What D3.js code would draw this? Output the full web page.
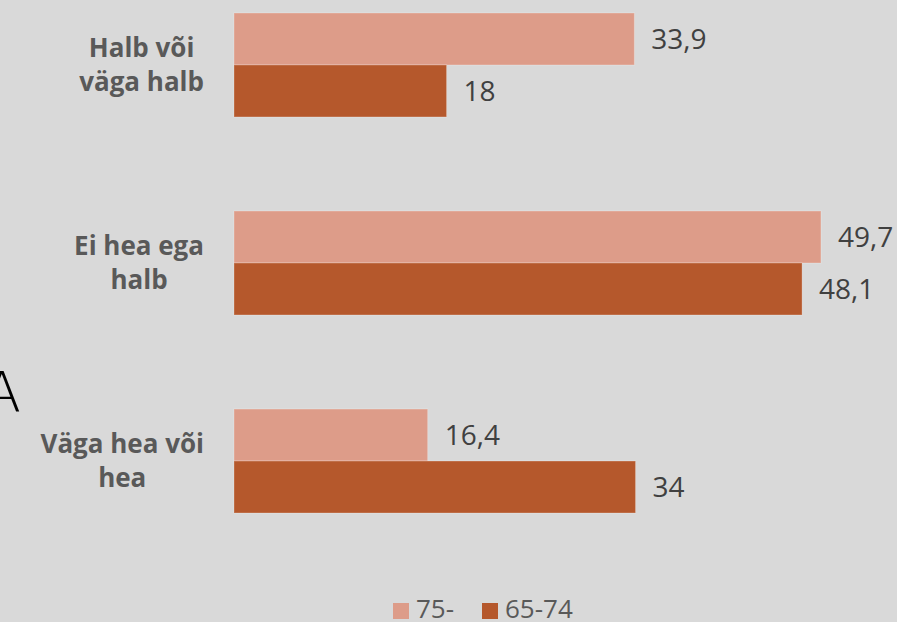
<!DOCTYPE html>
<head>
  <style>
    body { margin: 0; background: #d9d9d9; }
    svg { display: block; }
  </style>
<title>Tervis</title>
</head>

<body>
  <script src="https://cdn.jsdelivr.net/npm/d3@7"></script>

  <script>
    // data
    var categories = [["Halb või", "väga halb"], ["Ei hea ega", "halb"], ["Väga hea või", "hea"]];
    var series = ["75-", "65-74"];
    var values75 = [33.9, 49.7, 16.4];
    var values6574 = [18, 48.1, 34];
    var colors = ["#dd9c89", "#b5582c"];

    var width = 897, height = 622;

    var svg = d3.select("body").append("svg")
      .attr("width", width)
      .attr("height", height);

    svg.append("rect").attr("width", width).attr("height", height).attr("fill", "#d9d9d9");

    // scales
    var keys = categories.map(function (c) { return c.join(" "); });
    var x = d3.scaleLinear().domain([0, 50]).range([234, 234 + 50 * 11.81]);
    var y = d3.scaleBand().domain(keys).range([13, 513]).paddingInner(0.475).paddingOuter(0);
    var ys = d3.scaleBand().domain(series).range([0, y.bandwidth()]);

    var rows = [];
    keys.forEach(function (k, i) {
      rows.push({ cat: k, s: series[0], v: values75[i] });
      rows.push({ cat: k, s: series[1], v: values6574[i] });
    });

    // bars
    svg.append("g").attr("id", "bars")
      .selectAll("rect")
      .data(rows)
      .enter().append("rect")
      .attr("x", x(0))
      .attr("y", function (d) { return y(d.cat) + ys(d.s); })
      .attr("width", function (d) { return x(d.v) - x(0); })
      .attr("height", ys.bandwidth())
      .attr("fill", function (d) { return colors[series.indexOf(d.s)]; })
      .attr("stroke", "rgba(255,255,255,0.25)")
      .attr("stroke-width", 1);

    // value labels
    svg.append("g").attr("id", "values")
      .selectAll("text")
      .data(rows)
      .enter().append("text")
      .attr("x", function (d) { return x(d.v) + 17; })
      .attr("y", function (d) { return y(d.cat) + ys(d.s) + ys.bandwidth() / 2; })
      .attr("dy", "0.36em")
      .style("font-family", "'Open Sans', sans-serif")
      .style("font-size", "28px")
      .style("fill", "#404040")
      .text(function (d) { return String(d.v).replace(".", ","); });

    // category labels (lines centred in a box that ends near the bars)
    var catG = svg.append("g").attr("id", "y_axis");
    categories.forEach(function (lines, i) {
      var cy = y(keys[i]) + y.bandwidth() / 2;
      var t = catG.append("text")
        .style("font-family", "'Open Sans', sans-serif")
        .style("font-weight", "bold")
        .style("font-size", "26px")
        .style("fill", "#595959")
        .attr("text-anchor", "middle");
      var spans = lines.map(function (l, j) {
        return t.append("tspan").attr("y", cy - 8 + j * 34).text(l);
      });
      var maxW = d3.max(spans, function (s) { return s.node().getComputedTextLength(); });
      spans.forEach(function (s) { s.attr("x", 204 - maxW / 2); });
    });

    // stray letter at the left edge
    svg.append("text")
      .attr("x", 21)
      .attr("y", 411)
      .attr("text-anchor", "end")
      .style("font-family", "'DejaVu Sans', sans-serif")
      .style("font-size", "56px")
      .style("font-weight", "300")
      .style("fill", "#000")
      .text("A");

    // legend
    var legendX = [393, 482];
    var leg = svg.append("g").attr("id", "legend")
      .selectAll("g")
      .data(series)
      .enter().append("g")
      .attr("transform", function (d, i) { return "translate(" + legendX[i] + ",603)"; });
    leg.append("rect")
      .attr("width", 16).attr("height", 16)
      .attr("fill", function (d, i) { return colors[i]; });
    leg.append("text")
      .attr("x", 23).attr("y", 15)
      .style("font-family", "'Open Sans', sans-serif")
      .style("font-size", "26px")
      .style("fill", "#595959")
      .text(function (d) { return d; });
  </script>
</body>
